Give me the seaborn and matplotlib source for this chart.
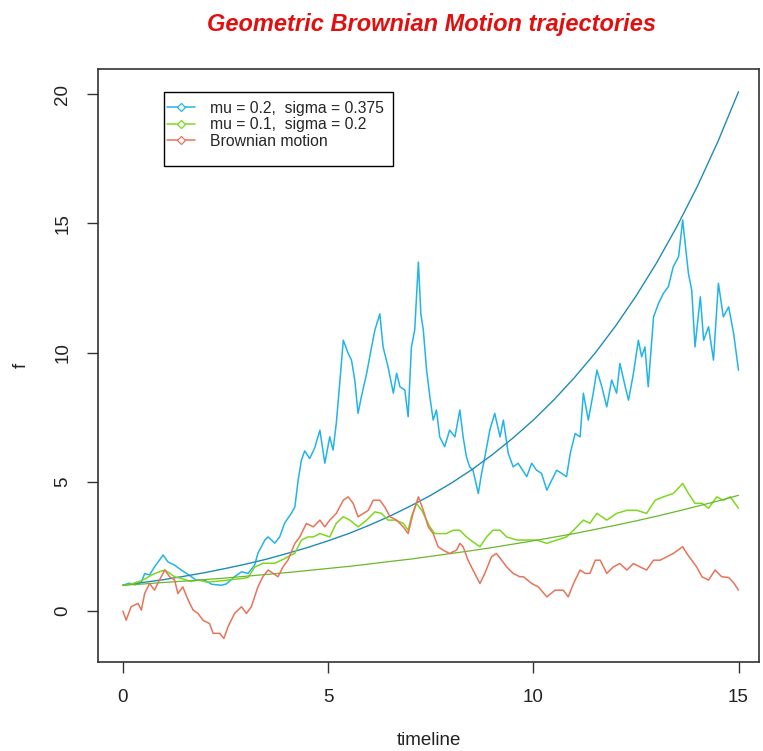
import matplotlib
matplotlib.use("Agg")
import matplotlib.pyplot as plt
from matplotlib.lines import Line2D
from matplotlib.patches import Rectangle
import seaborn as sns

# GBM path, mu = 0.2, sigma = 0.375
blue_t = [0.00, 0.15, 0.30, 0.45, 0.53, 0.65, 0.77, 0.98, 1.10, 1.26, 1.42, 1.55, 1.67, 1.79,
          1.99, 2.16, 2.40, 2.52, 2.72, 2.89, 3.05, 3.21, 3.29, 3.46, 3.54, 3.70, 3.82, 3.94,
          4.11, 4.19, 4.27, 4.35, 4.43, 4.55, 4.67, 4.80, 4.92, 5.04, 5.12, 5.20, 5.29, 5.37,
          5.49, 5.57, 5.65, 5.73, 5.81, 5.94, 6.06, 6.14, 6.26, 6.34, 6.46, 6.59, 6.67, 6.75,
          6.87, 6.95, 7.03, 7.11, 7.20, 7.26, 7.32, 7.40, 7.48, 7.56, 7.64, 7.72, 7.84, 7.96,
          8.09, 8.21, 8.29, 8.37, 8.45, 8.53, 8.66, 8.74, 8.82, 8.94, 9.06, 9.19, 9.27, 9.39,
          9.51, 9.63, 9.84, 9.96, 10.08, 10.20, 10.33, 10.45, 10.57, 10.69, 10.81, 10.90,
          11.02, 11.14, 11.22, 11.34, 11.46, 11.55, 11.67, 11.79, 11.91, 12.03, 12.11, 12.24,
          12.32, 12.44, 12.56, 12.64, 12.72, 12.80, 12.93, 13.05, 13.17, 13.29, 13.41, 13.54,
          13.64, 13.70, 13.78, 13.86, 13.94, 14.07, 14.15, 14.27, 14.39, 14.51, 14.63, 14.76,
          14.88, 15.00]
blue_v = [1.00, 1.08, 1.02, 1.12, 1.45, 1.40, 1.71, 2.17, 1.90, 1.78, 1.59, 1.46, 1.33, 1.20,
          1.20, 1.04, 1.00, 1.05, 1.33, 1.52, 1.46, 1.78, 2.24, 2.75, 2.87, 2.63, 2.87, 3.40,
          3.80, 4.03, 5.07, 5.84, 6.20, 5.90, 6.30, 7.00, 5.72, 6.74, 6.23, 7.27, 8.94, 10.48,
          9.97, 9.71, 8.94, 7.65, 8.29, 9.20, 10.22, 10.87, 11.50, 10.22, 9.45, 8.43, 9.20, 8.68,
          8.55, 7.52, 10.22, 10.87, 13.50, 11.50, 10.87, 9.32, 8.29, 7.39, 7.78, 6.74, 6.36, 7.00,
          6.74, 7.78, 6.74, 5.97, 5.58, 5.45, 4.55, 5.33, 5.97, 7.00, 7.65, 6.74, 7.39, 6.10,
          5.58, 5.72, 5.20, 5.72, 5.45, 5.33, 4.68, 5.07, 5.45, 5.33, 5.20, 6.10,
          6.87, 6.74, 8.43, 7.39, 8.43, 9.32, 8.68, 7.90, 8.94, 8.43, 9.58, 8.68,
          8.16, 9.20, 10.48, 9.84, 10.22, 8.68, 11.38, 11.90, 12.29, 12.55, 13.32, 13.71,
          15.13, 14.22, 13.06, 12.42, 10.22, 12.16, 10.48, 11.00, 9.71, 12.68, 11.38, 11.77,
          10.75, 9.32]

# GBM path, mu = 0.1, sigma = 0.2
green_t = [0.00, 0.20, 0.40, 0.55, 0.70, 0.85, 1.02, 1.15, 1.26, 1.45, 1.65, 1.85, 2.05, 2.25,
           2.45, 2.65, 2.85, 3.05, 3.21, 3.41, 3.70, 3.86, 4.02, 4.19, 4.35, 4.51, 4.64, 4.80,
           5.04, 5.20, 5.37, 5.53, 5.73, 5.94, 6.14, 6.30, 6.46, 6.63, 6.83, 6.95, 7.03, 7.15,
           7.28, 7.40, 7.48, 7.60, 7.72, 7.88, 8.05, 8.21, 8.37, 8.53, 8.70, 8.86, 9.02, 9.19,
           9.35, 9.60, 9.84, 10.08, 10.33, 10.57, 10.81, 10.98, 11.22, 11.38, 11.55, 11.79,
           12.03, 12.28, 12.52, 12.76, 12.97, 13.17, 13.41, 13.64, 13.78, 13.94, 14.11, 14.27,
           14.47, 14.63, 14.80, 15.00]
green_v = [1.00, 1.05, 1.15, 1.25, 1.40, 1.50, 1.59, 1.45, 1.33, 1.25, 1.15, 1.20, 1.12, 1.15,
           1.18, 1.22, 1.25, 1.30, 1.70, 1.85, 1.85, 1.97, 2.10, 2.24, 2.75, 2.87, 2.87, 3.00,
           2.87, 3.40, 3.65, 3.52, 3.26, 3.52, 3.84, 3.78, 3.52, 3.52, 3.40, 3.13, 3.65, 4.17,
           3.90, 3.52, 3.26, 3.00, 3.00, 3.00, 3.13, 3.13, 2.87, 2.68, 2.49, 2.87, 3.13, 3.13,
           2.87, 2.75, 2.75, 2.75, 2.62, 2.75, 2.87, 3.13, 3.52, 3.40, 3.78, 3.52,
           3.78, 3.90, 3.90, 3.78, 4.29, 4.42, 4.55, 4.94, 4.55, 4.17, 4.17, 3.98,
           4.42, 4.29, 4.42, 3.98]

# plain Brownian motion
red_t = [0.00, 0.08, 0.20, 0.37, 0.45, 0.53, 0.65, 0.77, 0.89, 1.02, 1.14, 1.26, 1.34, 1.46,
         1.59, 1.71, 1.83, 1.95, 2.11, 2.20, 2.36, 2.46, 2.56, 2.72, 2.89, 3.01, 3.13, 3.29,
         3.41, 3.54, 3.66, 3.78, 3.90, 4.02, 4.19, 4.31, 4.47, 4.64, 4.80, 4.92, 5.04, 5.20,
         5.37, 5.49, 5.61, 5.73, 5.86, 5.98, 6.10, 6.26, 6.38, 6.51, 6.67, 6.83, 6.95, 7.07,
         7.20, 7.32, 7.44, 7.56, 7.68, 7.80, 7.96, 8.13, 8.21, 8.29, 8.41, 8.53, 8.70, 8.82,
         8.98, 9.10, 9.23, 9.35, 9.51, 9.67, 9.76, 9.96, 10.12, 10.33, 10.53, 10.73, 10.85,
         10.98, 11.14, 11.26, 11.38, 11.51, 11.63, 11.79, 11.95, 12.11, 12.28, 12.44, 12.60,
         12.76, 12.93, 13.09, 13.25, 13.41, 13.64, 13.74, 13.86, 13.98, 14.11, 14.27, 14.43,
         14.59, 14.76, 14.88, 15.00]
red_v = [0.00, -0.35, 0.17, 0.30, 0.04, 0.68, 1.07, 0.81, 1.20, 1.59, 1.33, 1.20, 0.68, 0.94,
         0.43, 0.04, -0.09, -0.35, -0.48, -0.86, -0.86, -1.06, -0.61, -0.09, 0.17, -0.09, 0.17, 0.94,
         1.33, 1.59, 1.46, 1.33, 1.71, 1.97, 2.62, 2.87, 3.39, 3.26, 3.52, 3.26, 3.52, 3.78,
         4.29, 4.42, 4.17, 3.65, 3.78, 3.90, 4.29, 4.29, 4.03, 3.65, 3.52, 3.26, 3.00, 3.78,
         4.42, 3.90, 3.26, 3.00, 2.49, 2.36, 2.23, 2.36, 2.62, 2.49, 1.97, 1.59, 1.07, 1.46,
         2.10, 2.23, 1.97, 1.71, 1.46, 1.33, 1.33, 1.07, 0.94, 0.55, 0.81, 0.81, 0.55,
         1.07, 1.59, 1.46, 1.46, 1.97, 1.97, 1.46, 1.71, 1.84, 1.59, 1.84, 1.71,
         1.59, 1.97, 1.97, 2.10, 2.23, 2.49, 2.23, 1.97, 1.71, 1.33, 1.20, 1.59,
         1.33, 1.30, 1.10, 0.81]

# expected values of the two GBMs, every half unit of time
mean_t = [0.0, 0.5, 1.0, 1.5, 2.0, 2.5, 3.0, 3.5, 4.0, 4.5, 5.0, 5.5, 6.0, 6.5, 7.0, 7.5,
          8.0, 8.5, 9.0, 9.5, 10.0, 10.5, 11.0, 11.5, 12.0, 12.5, 13.0, 13.5, 14.0, 14.5, 15.0]
mean_blue = [1.00, 1.11, 1.22, 1.35, 1.49, 1.65, 1.82, 2.01, 2.23, 2.46, 2.72, 3.00, 3.32,
             3.67, 4.06, 4.48, 4.95, 5.47, 6.05, 6.69, 7.39, 8.17, 9.03, 9.97, 11.02, 12.18,
             13.46, 14.88, 16.44, 18.17, 20.09]
mean_green = [1.00, 1.05, 1.11, 1.16, 1.22, 1.28, 1.35, 1.42, 1.49, 1.57, 1.65, 1.73, 1.82,
              1.92, 2.01, 2.12, 2.23, 2.34, 2.46, 2.59, 2.72, 2.86, 3.00, 3.16, 3.32, 3.49,
              3.67, 3.86, 4.06, 4.26, 4.48]

legend_labels = ["mu = 0.2,  sigma = 0.375", "mu = 0.1,  sigma = 0.2", "Brownian motion"]

c_blue = "#22B4E8"
c_blue_mean = "#1F8CB5"
c_green = "#7DD81F"
c_green_mean = "#6AB82C"
c_red = "#E8735A"

sns.set_theme(style="white")
plt.rcParams["font.family"] = ["Liberation Sans", "DejaVu Sans"]

fig = plt.figure(figsize=(7.63, 7.51), dpi=100)
ax = fig.add_axes([0.1288, 0.1181, 0.8660, 0.7900])

sns.lineplot(x=blue_t, y=blue_v, ax=ax, color=c_blue, linewidth=1.1, estimator=None, sort=False)
sns.lineplot(x=mean_t, y=mean_blue, ax=ax, color=c_blue_mean, linewidth=1.0, estimator=None)
sns.lineplot(x=green_t, y=green_v, ax=ax, color=c_green, linewidth=1.1, estimator=None, sort=False)
sns.lineplot(x=mean_t, y=mean_green, ax=ax, color=c_green_mean, linewidth=0.9, estimator=None)
sns.lineplot(x=red_t, y=red_v, ax=ax, color=c_red, linewidth=1.1, estimator=None, sort=False)

ax.set_xlim(-0.6, 15.5)
ax.set_ylim(-1.98, 20.97)
ax.set_xticks([0, 5, 10, 15])
ax.set_yticks([0, 5, 10, 15, 20])
ax.tick_params(axis="both", direction="out", length=8, width=1, color="#333333",
               labelsize=13.5, pad=11.5, labelcolor="#222222",
               bottom=True, left=True)
for lab in ax.get_yticklabels():
    lab.set_rotation(90)
    lab.set_va("center")
for s in ax.spines.values():
    s.set_color("#333333")
    s.set_linewidth(1.2)

ax.set_xlabel("timeline", fontsize=13.5, color="#222222")
ax.set_ylabel("f", fontsize=13.5, color="#222222")
ax.xaxis.set_label_coords(0.5, -0.118)
ax.yaxis.set_label_coords(-0.104, 0.5)

fig.text(0.565, 0.967, "Geometric Brownian Motion trajectories", ha="center", va="center",
         fontsize=17, fontweight="bold", fontstyle="italic", color="#E01010")

# legend: R-style box, a bit taller than the entries
ax.add_patch(Rectangle((0.0994, 0.8365), 0.347, 0.1252, transform=ax.transAxes,
                       facecolor="white", edgecolor="black", linewidth=1.0, zorder=5))
handles = [Line2D([], [], color=c, linewidth=1.1, marker="D", markersize=4,
                  markerfacecolor="white", markeredgewidth=0.9)
           for c in (c_blue, c_green, c_red)]
leg = ax.legend(handles, legend_labels, loc="upper left", bbox_to_anchor=(0.1035, 0.9466),
                borderaxespad=0, borderpad=0, fontsize=11.3, frameon=False,
                handlelength=1.8, handletextpad=0.95, labelspacing=0.1)
leg.set_zorder(6)

fig.savefig("out.png", dpi=100)
